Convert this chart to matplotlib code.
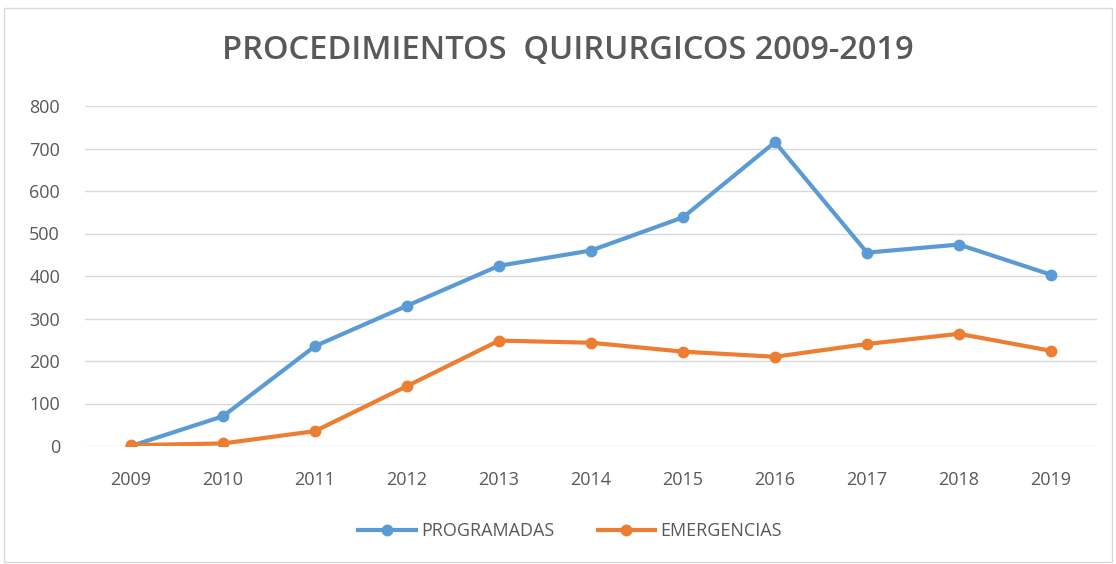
import matplotlib
matplotlib.use("Agg")
import matplotlib.pyplot as plt
from matplotlib.patches import Rectangle

years = ["2009", "2010", "2011", "2012", "2013", "2014", "2015", "2016", "2017", "2018", "2019"]
programadas = [0, 70, 235, 330, 424, 460, 538, 715, 455, 474, 403]
emergencias = [2, 6, 35, 141, 248, 243, 222, 210, 240, 264, 224]
title = "PROCEDIMIENTOS  QUIRURGICOS 2009-2019"
yticks = [0, 100, 200, 300, 400, 500, 600, 700, 800]

W, H = 1116, 564
fig = plt.figure(figsize=(W / 100, H / 100), dpi=100)
fig.patch.set_facecolor("white")
fig.patches.append(Rectangle((4 / W, 2 / H), (W - 8) / W, (H - 10) / H, transform=fig.transFigure,
                             fill=False, edgecolor="#d9d9d9", linewidth=1.0))

ax = fig.add_axes([85 / W, (H - 446) / H, (1097 - 85) / W, (446 - 106) / H])
x = list(range(len(years)))
blue = "#5B9BD5"
orange = "#ED7D31"
ax.plot(x, programadas, color=blue, lw=3, marker="o", ms=7.5, label="PROGRAMADAS", zorder=3)
ax.plot(x, emergencias, color=orange, lw=3, marker="o", ms=7.5, label="EMERGENCIAS", zorder=3)

ax.set_xlim(-0.5, len(years) - 0.5)
ax.set_ylim(0, 800)
ax.set_yticks(yticks)
ax.set_xticks(x)
ax.set_xticklabels(years)
ax.grid(axis="y", color="#d9d9d9", lw=1)
ax.set_axisbelow(True)
for s in ax.spines.values():
    s.set_visible(False)
ax.tick_params(length=0, labelsize=13, labelcolor="#595959")
for lab in ax.get_xticklabels() + ax.get_yticklabels():
    lab.set_family(["Open Sans", "DejaVu Sans"])
ax.tick_params(axis="x", pad=18)
ax.tick_params(axis="y", pad=18)

fig.text(568 / W, 1 - 51 / H, title, ha="center", va="center", fontsize=23.5,
         color="#595959", family=["Open Sans", "DejaVu Sans"], fontweight="semibold")

leg = fig.legend(loc="center", bbox_to_anchor=(570 / W, 1 - 531 / H), ncol=2, frameon=False,
                 fontsize=13, handlelength=3.2, columnspacing=2.4, handletextpad=0.3)
for t in leg.get_texts():
    t.set_color("#595959")
    t.set_family(["Open Sans", "DejaVu Sans"])

fig.savefig("out.png", dpi=100)
